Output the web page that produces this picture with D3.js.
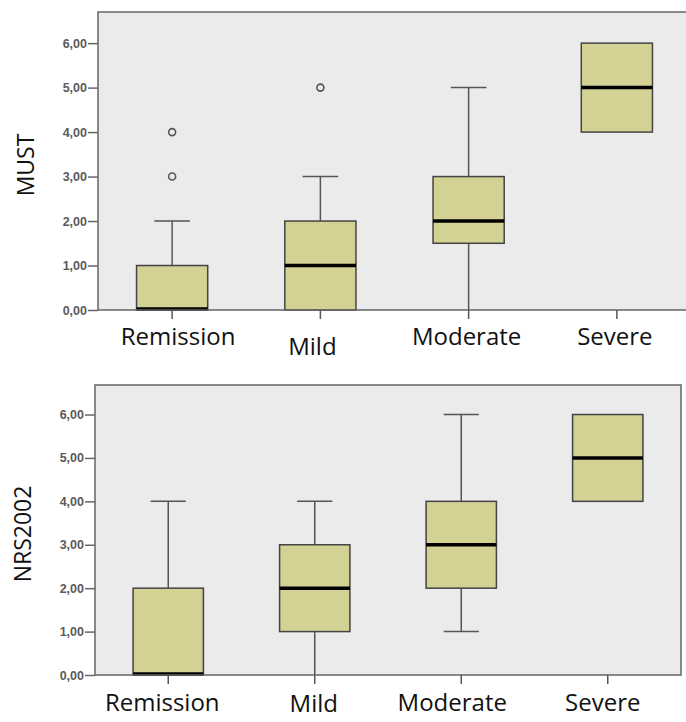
<!DOCTYPE html>
<html>
<head>
<meta charset="utf-8">
<script src="https://cdn.jsdelivr.net/npm/d3@7"></script>
<style>
  body { margin: 0; background: #fff; }
  svg { display: block; }
  .tick-label { font-family: 'Liberation Sans', Arial, sans-serif; font-size: 12.5px; fill: #5a5a5a; font-weight: bold; }
  .cat-label { font-family: 'Open Sans', sans-serif; font-size: 24px; fill: #111; }
  .y-title { font-family: 'Open Sans', sans-serif; font-size: 23px; fill: #111; }
</style>
</head>
<body>
<svg width="686" height="722"></svg>
<script>
const categories = ['Remission', 'Mild', 'Moderate', 'Severe'];
const yTicks = [0, 1, 2, 3, 4, 5, 6];

// MUST panel
const mustMin = [0, 0, 0, 4];
const mustQ1 = [0, 0, 1.5, 4];
const mustMedian = [0, 1, 2, 5];
const mustQ3 = [1, 2, 3, 6];
const mustMax = [2, 3, 5, 6];
const mustOutliers = [[3, 4], [5], [], []];

// NRS2002 panel
const nrsMin = [0, 0, 1, 4];
const nrsQ1 = [0, 1, 2, 4];
const nrsMedian = [0, 2, 3, 5];
const nrsQ3 = [2, 3, 4, 6];
const nrsMax = [4, 4, 6, 6];
const nrsOutliers = [[], [], [], []];

const svg = d3.select('svg');
const fmt = d => d3.format('.2f')(d).replace('.', ',');

function drawPanel(opts) {
  const { left, top, right, bottom, bandWidth, yMax, title, titleX, rightBorder,
          mins, q1s, meds, q3s, maxs, outliers, labelY, labelDx, labelDy } = opts;

  const yScale = d3.scaleLinear().domain([0, yMax]).range([bottom, top]);
  const xScale = d3.scaleBand().domain(categories).range([left, left + bandWidth]).padding(0);
  const boxW = xScale.bandwidth() * 0.48;
  const capW = xScale.bandwidth() * 0.24;

  const g = svg.append('g');

  // plot background
  g.append('rect')
    .attr('x', left).attr('y', top)
    .attr('width', right - left).attr('height', bottom - top)
    .attr('fill', '#ebebeb');

  const stats = categories.map((c, i) => ({
    cat: c, min: mins[i], q1: q1s[i], med: meds[i], q3: q3s[i], max: maxs[i], out: outliers[i]
  }));

  const boxes = g.selectAll('.box').data(stats).enter().append('g').attr('class', 'box');
  const cx = d => xScale(d.cat) + xScale.bandwidth() / 2;

  // whiskers
  boxes.append('line')
    .attr('x1', cx).attr('x2', cx)
    .attr('y1', d => yScale(d.max)).attr('y2', d => yScale(d.q3))
    .attr('stroke', '#555').attr('stroke-width', 1.5);
  boxes.append('line')
    .attr('x1', cx).attr('x2', cx)
    .attr('y1', d => yScale(d.q1)).attr('y2', d => yScale(d.min))
    .attr('stroke', '#555').attr('stroke-width', 1.5);
  boxes.filter(d => d.max > d.q3).append('line')
    .attr('x1', d => cx(d) - capW / 2).attr('x2', d => cx(d) + capW / 2)
    .attr('y1', d => yScale(d.max)).attr('y2', d => yScale(d.max))
    .attr('stroke', '#555').attr('stroke-width', 1.5);
  boxes.filter(d => d.min < d.q1 && d.min > 0).append('line')
    .attr('x1', d => cx(d) - capW / 2).attr('x2', d => cx(d) + capW / 2)
    .attr('y1', d => yScale(d.min)).attr('y2', d => yScale(d.min))
    .attr('stroke', '#555').attr('stroke-width', 1.5);

  // box
  boxes.append('rect')
    .attr('x', d => cx(d) - boxW / 2)
    .attr('y', d => yScale(d.q3))
    .attr('width', boxW)
    .attr('height', d => yScale(d.q1) - yScale(d.q3))
    .attr('fill', '#d3d193')
    .attr('stroke', '#444').attr('stroke-width', 1.5);

  // median
  boxes.append('line')
    .attr('x1', d => cx(d) - boxW / 2).attr('x2', d => cx(d) + boxW / 2)
    .attr('y1', d => yScale(d.med) - (d.med === 0 ? 1 : 0))
    .attr('y2', d => yScale(d.med) - (d.med === 0 ? 1 : 0))
    .attr('stroke', '#000').attr('stroke-width', 3.5);

  // outliers
  boxes.selectAll('circle').data(d => d.out.map(v => ({ v, d }))).enter()
    .append('circle')
    .attr('cx', o => cx(o.d)).attr('cy', o => yScale(o.v))
    .attr('r', 3.5)
    .attr('fill', '#ebebeb').attr('stroke', '#555').attr('stroke-width', 1.6);

  // frame
  const frame = g.append('path')
    .attr('fill', 'none').attr('stroke', '#666').attr('stroke-width', 1.5);
  if (rightBorder) {
    frame.attr('d', `M${left},${bottom}V${top}H${right}V${bottom}H${left}`);
  } else {
    frame.attr('d', `M${left},${bottom}V${top}H${right}M${left},${bottom}H${right}`);
  }

  // y axis
  const yAxis = g.append('g')
    .attr('transform', `translate(${left},0)`)
    .call(d3.axisLeft(yScale).tickValues(yTicks).tickFormat(fmt).tickSize(10).tickPadding(1));
  yAxis.select('.domain').remove();
  yAxis.selectAll('.tick line').attr('stroke', '#666').attr('stroke-width', 1.5);
  yAxis.selectAll('.tick text').attr('class', 'tick-label').attr('font-family', null).attr('font-size', null).attr('fill', null);

  // x axis ticks
  const xAxis = g.append('g')
    .attr('transform', `translate(0,${bottom})`)
    .call(d3.axisBottom(xScale).tickSize(9).tickFormat(''));
  xAxis.select('.domain').remove();
  xAxis.selectAll('.tick line').attr('stroke', '#555').attr('stroke-width', 1.5);

  // category labels (overlaid, not exactly centred on ticks)
  g.selectAll('.cat-label').data(categories).enter().append('text')
    .attr('class', 'cat-label')
    .attr('x', (d, i) => xScale(d) + xScale.bandwidth() / 2 + labelDx[i])
    .attr('y', (d, i) => labelY + labelDy[i])
    .attr('text-anchor', 'middle')
    .text(d => d);

  // y title
  svg.append('text')
    .attr('class', 'y-title')
    .attr('transform', `translate(${titleX},${(top + bottom) / 2 + 4}) rotate(-90)`)
    .attr('text-anchor', 'middle')
    .text(title);
}

drawPanel({
  left: 98, top: 12, right: 688, bottom: 310, bandWidth: 593, yMax: 6.7,
  title: 'MUST', titleX: 34, rightBorder: false,
  mins: mustMin, q1s: mustQ1, meds: mustMedian, q3s: mustQ3, maxs: mustMax, outliers: mustOutliers,
  labelY: 345, labelDx: [6, -8, -2, -2], labelDy: [0, 10, 0, 0]
});

drawPanel({
  left: 95, top: 385, right: 681, bottom: 675, bandWidth: 586, yMax: 6.68,
  title: 'NRS2002', titleX: 31, rightBorder: true,
  mins: nrsMin, q1s: nrsQ1, meds: nrsMedian, q3s: nrsQ3, maxs: nrsMax, outliers: nrsOutliers,
  labelY: 711, labelDx: [-6, -1, -9, -5], labelDy: [0, 1, 0, 0]
});
</script>
</body>
</html>
